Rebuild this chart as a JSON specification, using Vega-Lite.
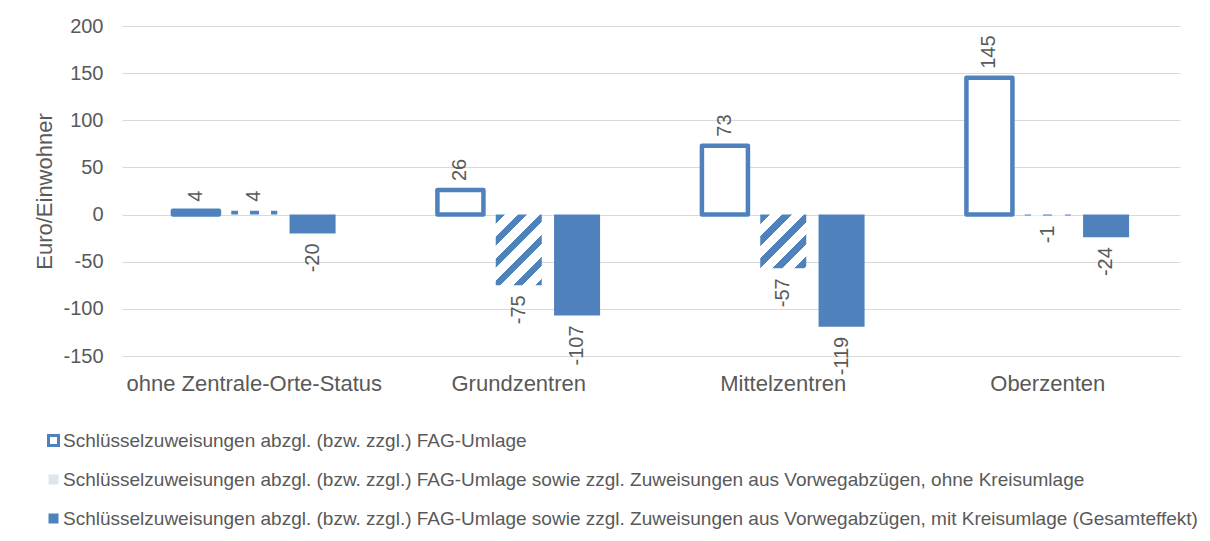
{
  "$schema": "https://vega.github.io/schema/vega-lite/v6.json",
  "width": 1058,
  "height": 330,
  "autosize": {"type": "none"},
  "padding": {"left": 122, "top": 26, "right": 30, "bottom": 185},
  "background": "white",
  "config": {
    "view": {"stroke": null},
    "font": "Liberation Sans",
    "locale": {"number": {"decimal": ".", "thousands": ",", "grouping": [3], "currency": ["$", ""], "minus": "-"}}
  },
  "data": {
    "values": [
      {"category": "ohne Zentrale-Orte-Status", "series": "Schlüsselzuweisungen abzgl. (bzw. zzgl.) FAG-Umlage", "value": 4},
      {"category": "ohne Zentrale-Orte-Status", "series": "Schlüsselzuweisungen abzgl. (bzw. zzgl.) FAG-Umlage sowie zzgl. Zuweisungen aus Vorwegabzügen, ohne Kreisumlage", "value": 4},
      {"category": "ohne Zentrale-Orte-Status", "series": "Schlüsselzuweisungen abzgl. (bzw. zzgl.) FAG-Umlage sowie zzgl. Zuweisungen aus Vorwegabzügen, mit Kreisumlage (Gesamteffekt)", "value": -20},
      {"category": "Grundzentren", "series": "Schlüsselzuweisungen abzgl. (bzw. zzgl.) FAG-Umlage", "value": 26},
      {"category": "Grundzentren", "series": "Schlüsselzuweisungen abzgl. (bzw. zzgl.) FAG-Umlage sowie zzgl. Zuweisungen aus Vorwegabzügen, ohne Kreisumlage", "value": -75},
      {"category": "Grundzentren", "series": "Schlüsselzuweisungen abzgl. (bzw. zzgl.) FAG-Umlage sowie zzgl. Zuweisungen aus Vorwegabzügen, mit Kreisumlage (Gesamteffekt)", "value": -107},
      {"category": "Mittelzentren", "series": "Schlüsselzuweisungen abzgl. (bzw. zzgl.) FAG-Umlage", "value": 73},
      {"category": "Mittelzentren", "series": "Schlüsselzuweisungen abzgl. (bzw. zzgl.) FAG-Umlage sowie zzgl. Zuweisungen aus Vorwegabzügen, ohne Kreisumlage", "value": -57},
      {"category": "Mittelzentren", "series": "Schlüsselzuweisungen abzgl. (bzw. zzgl.) FAG-Umlage sowie zzgl. Zuweisungen aus Vorwegabzügen, mit Kreisumlage (Gesamteffekt)", "value": -119},
      {"category": "Oberzenten", "series": "Schlüsselzuweisungen abzgl. (bzw. zzgl.) FAG-Umlage", "value": 145},
      {"category": "Oberzenten", "series": "Schlüsselzuweisungen abzgl. (bzw. zzgl.) FAG-Umlage sowie zzgl. Zuweisungen aus Vorwegabzügen, ohne Kreisumlage", "value": -1},
      {"category": "Oberzenten", "series": "Schlüsselzuweisungen abzgl. (bzw. zzgl.) FAG-Umlage sowie zzgl. Zuweisungen aus Vorwegabzügen, mit Kreisumlage (Gesamteffekt)", "value": -24}
    ]
  },
  "encoding": {
    "x": {
      "field": "category", "type": "nominal",
      "sort": ["ohne Zentrale-Orte-Status", "Grundzentren", "Mittelzentren", "Oberzenten"],
      "scale": {"paddingInner": 0.385, "paddingOuter": 0.1925},
      "title": null,
      "axis": {"domain": false, "ticks": false, "tickSize": 0, "grid": false, "labelAngle": 0, "labelPadding": 17, "labelFontSize": 22, "labelColor": "#595959", "labelLimit": 400, "labelFont": "Liberation Sans"}
    },
    "xOffset": {
      "field": "series", "type": "nominal",
      "sort": ["Schlüsselzuweisungen abzgl. (bzw. zzgl.) FAG-Umlage", "Schlüsselzuweisungen abzgl. (bzw. zzgl.) FAG-Umlage sowie zzgl. Zuweisungen aus Vorwegabzügen, ohne Kreisumlage", "Schlüsselzuweisungen abzgl. (bzw. zzgl.) FAG-Umlage sowie zzgl. Zuweisungen aus Vorwegabzügen, mit Kreisumlage (Gesamteffekt)"],
      "scale": {"domain": ["Schlüsselzuweisungen abzgl. (bzw. zzgl.) FAG-Umlage", "Schlüsselzuweisungen abzgl. (bzw. zzgl.) FAG-Umlage sowie zzgl. Zuweisungen aus Vorwegabzügen, ohne Kreisumlage", "Schlüsselzuweisungen abzgl. (bzw. zzgl.) FAG-Umlage sowie zzgl. Zuweisungen aus Vorwegabzügen, mit Kreisumlage (Gesamteffekt)"], "paddingInner": 0.211, "paddingOuter": 0}
    },
    "y": {
      "field": "value", "type": "quantitative",
      "scale": {"domain": [-150, 200], "nice": false},
      "title": "Euro/Einwohner",
      "axis": {"values": [-150, -100, -50, 0, 50, 100, 150, 200], "domain": false, "ticks": false, "tickSize": 0, "grid": true, "gridColor": "#D9D9D9", "gridWidth": 1, "labelPadding": 19, "labelFontSize": 20, "labelColor": "#595959", "labelFont": "Liberation Sans", "titleFontSize": 22, "titleColor": "#595959", "titleFontWeight": "normal", "titleFont": "Liberation Sans", "titleX": -78, "titleY": 165, "titleBaseline": "middle"}
    }
  },
  "layer": [
    {
      "transform": [{"filter": {"field": "series", "equal": "Schlüsselzuweisungen abzgl. (bzw. zzgl.) FAG-Umlage"}}],
      "mark": {"type": "bar", "fill": "#FFFFFF", "stroke": "#4F81BD", "strokeWidth": 4.5, "strokeJoin": "round"}
    },
    {
      "transform": [{"filter": {"and": [{"field": "series", "equal": "Schlüsselzuweisungen abzgl. (bzw. zzgl.) FAG-Umlage sowie zzgl. Zuweisungen aus Vorwegabzügen, ohne Kreisumlage"}, {"field": "category", "equal": "Grundzentren"}]}}],
      "mark": {"type": "bar", "strokeWidth": 0, "fill": {"gradient": "linear", "x1": 0, "y1": 0, "x2": 1, "y2": 1.537, "stops": [
        {"offset": 0, "color": "#4F81BD"}, {"offset": 0.06, "color": "#4F81BD"}, {"offset": 0.06, "color": "#FFFFFF"}, {"offset": 0.1422, "color": "#FFFFFF"},
        {"offset": 0.1422, "color": "#4F81BD"}, {"offset": 0.2022, "color": "#4F81BD"}, {"offset": 0.2022, "color": "#FFFFFF"}, {"offset": 0.2844, "color": "#FFFFFF"},
        {"offset": 0.2844, "color": "#4F81BD"}, {"offset": 0.3444, "color": "#4F81BD"}, {"offset": 0.3444, "color": "#FFFFFF"}, {"offset": 0.4266, "color": "#FFFFFF"},
        {"offset": 0.4266, "color": "#4F81BD"}, {"offset": 0.4866, "color": "#4F81BD"}, {"offset": 0.4866, "color": "#FFFFFF"}, {"offset": 0.5688, "color": "#FFFFFF"},
        {"offset": 0.5688, "color": "#4F81BD"}, {"offset": 0.6288, "color": "#4F81BD"}, {"offset": 0.6288, "color": "#FFFFFF"}, {"offset": 0.7111, "color": "#FFFFFF"},
        {"offset": 0.7111, "color": "#4F81BD"}, {"offset": 0.7711, "color": "#4F81BD"}, {"offset": 0.7711, "color": "#FFFFFF"}, {"offset": 1, "color": "#FFFFFF"}
      ]}}
    },
    {
      "transform": [{"filter": {"and": [{"field": "series", "equal": "Schlüsselzuweisungen abzgl. (bzw. zzgl.) FAG-Umlage sowie zzgl. Zuweisungen aus Vorwegabzügen, ohne Kreisumlage"}, {"field": "category", "equal": "Mittelzentren"}]}}],
      "mark": {"type": "bar", "strokeWidth": 0, "fill": {"gradient": "linear", "x1": 0, "y1": 0, "x2": 1, "y2": 1.168, "stops": [
        {"offset": 0, "color": "#4F81BD"}, {"offset": 0.085, "color": "#4F81BD"}, {"offset": 0.085, "color": "#FFFFFF"}, {"offset": 0.2022, "color": "#FFFFFF"},
        {"offset": 0.2022, "color": "#4F81BD"}, {"offset": 0.2872, "color": "#4F81BD"}, {"offset": 0.2872, "color": "#FFFFFF"}, {"offset": 0.4045, "color": "#FFFFFF"},
        {"offset": 0.4045, "color": "#4F81BD"}, {"offset": 0.4895, "color": "#4F81BD"}, {"offset": 0.4895, "color": "#FFFFFF"}, {"offset": 0.6067, "color": "#FFFFFF"},
        {"offset": 0.6067, "color": "#4F81BD"}, {"offset": 0.6917, "color": "#4F81BD"}, {"offset": 0.6917, "color": "#FFFFFF"}, {"offset": 0.809, "color": "#FFFFFF"},
        {"offset": 0.809, "color": "#4F81BD"}, {"offset": 0.894, "color": "#4F81BD"}, {"offset": 0.894, "color": "#FFFFFF"}, {"offset": 1, "color": "#FFFFFF"}
      ]}}
    },
    {
      "transform": [{"filter": {"and": [{"field": "series", "equal": "Schlüsselzuweisungen abzgl. (bzw. zzgl.) FAG-Umlage sowie zzgl. Zuweisungen aus Vorwegabzügen, ohne Kreisumlage"}, {"field": "category", "oneOf": ["ohne Zentrale-Orte-Status", "Oberzenten"]}]}}],
      "mark": {"type": "bar", "strokeWidth": 0, "fill": {"gradient": "linear", "x1": 0, "y1": 0, "x2": 1, "y2": 0, "stops": [
        {"offset": 0, "color": "#4F81BD"}, {"offset": 0.14, "color": "#4F81BD"}, {"offset": 0.14, "color": "#FFFFFF"}, {"offset": 0.4, "color": "#FFFFFF"},
        {"offset": 0.4, "color": "#4F81BD"}, {"offset": 0.6, "color": "#4F81BD"}, {"offset": 0.6, "color": "#FFFFFF"}, {"offset": 0.87, "color": "#FFFFFF"},
        {"offset": 0.87, "color": "#4F81BD"}, {"offset": 1, "color": "#4F81BD"}
      ]}}
    },
    {
      "transform": [{"filter": {"field": "series", "equal": "Schlüsselzuweisungen abzgl. (bzw. zzgl.) FAG-Umlage sowie zzgl. Zuweisungen aus Vorwegabzügen, mit Kreisumlage (Gesamteffekt)"}}],
      "mark": {"type": "bar"},
      "encoding": {
        "fill": {
          "field": "series", "type": "nominal",
          "scale": {"domain": ["Schlüsselzuweisungen abzgl. (bzw. zzgl.) FAG-Umlage", "Schlüsselzuweisungen abzgl. (bzw. zzgl.) FAG-Umlage sowie zzgl. Zuweisungen aus Vorwegabzügen, ohne Kreisumlage", "Schlüsselzuweisungen abzgl. (bzw. zzgl.) FAG-Umlage sowie zzgl. Zuweisungen aus Vorwegabzügen, mit Kreisumlage (Gesamteffekt)"],
            "range": ["#FFFFFF", "#DCE6F1", "#4F81BD"]},
          "legend": {
            "title": null, "orient": "none", "legendX": -78, "legendY": 405, "direction": "vertical",
            "symbolType": "square", "symbolSize": 100, "symbolStrokeWidth": 3,
            "labelFontSize": 19, "labelColor": "#595959", "labelFont": "Liberation Sans", "labelLimit": 1200, "labelOffset": 0,
            "rowPadding": 16, "padding": 0
          }
        },
        "stroke": {
          "field": "series", "type": "nominal",
          "scale": {"domain": ["Schlüsselzuweisungen abzgl. (bzw. zzgl.) FAG-Umlage", "Schlüsselzuweisungen abzgl. (bzw. zzgl.) FAG-Umlage sowie zzgl. Zuweisungen aus Vorwegabzügen, ohne Kreisumlage", "Schlüsselzuweisungen abzgl. (bzw. zzgl.) FAG-Umlage sowie zzgl. Zuweisungen aus Vorwegabzügen, mit Kreisumlage (Gesamteffekt)"],
            "range": ["#4F81BD", "transparent", "transparent"]},
          "legend": {
            "title": null, "orient": "none", "legendX": -78, "legendY": 405, "direction": "vertical",
            "symbolType": "square", "symbolSize": 100, "symbolStrokeWidth": 3,
            "labelFontSize": 19, "labelColor": "#595959", "labelFont": "Liberation Sans", "labelLimit": 1200, "labelOffset": 0,
            "rowPadding": 16, "padding": 0
          }
        }
      }
    },
    {
      "mark": {"type": "text", "angle": 270, "baseline": "middle", "align": {"expr": "datum.value >= 0 ? 'left' : 'right'"}, "dx": {"expr": "datum.value >= 0 ? 9 : -10"}, "fontSize": 20, "font": "Liberation Sans", "fill": "#595959"},
      "encoding": {"text": {"field": "value", "type": "nominal"}}
    }
  ]
}
